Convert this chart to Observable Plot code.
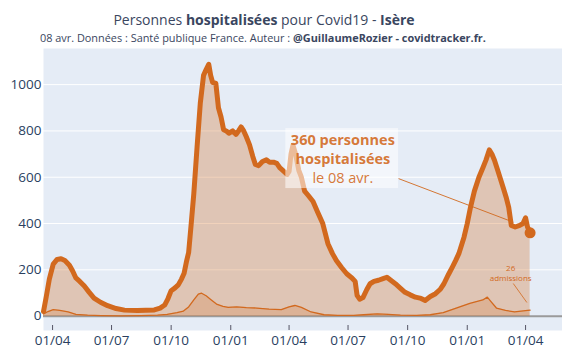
<!DOCTYPE html>
<html><head><meta charset="utf-8">
<script src="https://cdn.jsdelivr.net/npm/d3@7"></script>
<script src="https://cdn.jsdelivr.net/npm/@observablehq/plot@0.6"></script>
<style>
body{margin:0;background:#fff;font-family:"Open Sans",sans-serif;}
#wrap{position:relative;width:562px;height:355px;overflow:hidden;}
#title{position:absolute;top:10px;left:0;width:528px;text-align:center;font-size:14px;color:#3a4660;white-space:nowrap;}
#sub{position:absolute;top:30px;left:40px;font-size:10.9px;color:#3a4660;white-space:nowrap;}
#chart{position:absolute;top:40px;left:0;}
</style></head>
<body><div id="wrap">
<div id="title">Personnes <b>hospitalisées</b> pour Covid19 - <b>Isère</b></div>
<div id="sub">08 avr. Données : Santé publique France. Auteur : <b>@GuillaumeRozier - covidtracker.fr.</b></div>
<div id="chart"></div></div>
<script>
// Hospitalized persons (Isère)
const hospDates = ["2020-03-18","2020-03-22","2020-03-27","2020-04-02","2020-04-08","2020-04-14","2020-04-20","2020-04-27","2020-05-02","2020-05-07","2020-05-13","2020-05-20","2020-05-27","2020-06-04","2020-06-14","2020-06-25","2020-07-08","2020-07-21","2020-08-10","2020-09-05","2020-09-14","2020-09-21","2020-09-26","2020-10-01","2020-10-07","2020-10-12","2020-10-17","2020-10-21","2020-10-25","2020-10-28","2020-11-01","2020-11-05","2020-11-10","2020-11-15","2020-11-20","2020-11-24","2020-11-28","2020-12-01","2020-12-04","2020-12-09","2020-12-13","2020-12-17","2020-12-21","2020-12-25","2020-12-29","2021-01-04","2021-01-09","2021-01-13","2021-01-17","2021-01-21","2021-01-25","2021-01-30","2021-02-04","2021-02-08","2021-02-13","2021-02-19","2021-02-25","2021-03-02","2021-03-08","2021-03-13","2021-03-18","2021-03-24","2021-03-29","2021-04-01","2021-04-04","2021-04-07","2021-04-11","2021-04-16","2021-04-20","2021-04-25","2021-05-01","2021-05-08","2021-05-15","2021-05-23","2021-05-31","2021-06-07","2021-06-13","2021-06-21","2021-06-29","2021-07-07","2021-07-12","2021-07-15","2021-07-19","2021-07-24","2021-07-30","2021-08-04","2021-08-10","2021-08-17","2021-08-24","2021-08-30","2021-09-05","2021-09-12","2021-09-20","2021-09-27","2021-10-05","2021-10-13","2021-10-20","2021-10-28","2021-11-05","2021-11-13","2021-11-20","2021-11-26","2021-12-03","2021-12-09","2021-12-14","2021-12-19","2021-12-27","2022-01-01","2022-01-06","2022-01-12","2022-01-19","2022-01-25","2022-01-30","2022-02-04","2022-02-08","2022-02-12","2022-02-17","2022-02-22","2022-02-26","2022-03-02","2022-03-06","2022-03-10","2022-03-16","2022-03-23","2022-03-28","2022-04-01","2022-04-04","2022-04-08"];
const hospValues = [20,80,160,225,245,248,240,220,195,165,150,130,105,78,60,45,33,26,24,27,35,48,75,110,122,135,160,185,240,275,400,530,730,920,1040,1065,1088,1040,1010,1005,900,860,805,800,790,800,785,800,817,800,775,740,690,655,650,668,675,665,665,660,640,625,612,625,700,738,700,630,600,540,520,495,450,400,313,270,240,210,183,165,150,90,73,80,115,140,150,155,162,168,155,140,120,103,92,82,78,68,85,97,115,140,180,212,240,270,341,400,470,540,600,640,675,718,700,673,630,586,550,514,470,392,385,392,400,425,385,360];

// New admissions (smoothed)
const admDates = ["2020-03-18","2020-03-25","2020-04-02","2020-04-12","2020-04-25","2020-05-07","2020-05-25","2020-06-15","2020-07-15","2020-08-15","2020-09-10","2020-09-25","2020-10-10","2020-10-20","2020-10-28","2020-11-05","2020-11-12","2020-11-17","2020-11-24","2020-12-02","2020-12-10","2020-12-20","2020-12-28","2021-01-10","2021-01-25","2021-02-10","2021-03-01","2021-03-20","2021-04-01","2021-04-10","2021-04-20","2021-05-05","2021-05-25","2021-06-15","2021-07-10","2021-07-25","2021-08-15","2021-09-01","2021-09-20","2021-10-15","2021-11-05","2021-11-25","2021-12-15","2022-01-05","2022-01-25","2022-02-01","2022-02-06","2022-02-15","2022-03-01","2022-03-15","2022-04-01","2022-04-08"];
const admValues = [10,20,28,25,18,8,4,2,1,2,4,8,15,22,40,70,95,99,88,70,52,42,38,40,37,35,30,28,40,46,38,18,6,3,3,6,10,8,4,3,6,15,35,55,70,82,65,35,25,18,24,26];

const xTickDates = ["2020-04-01","2020-07-01","2020-10-01","2021-01-01","2021-04-01","2021-07-01","2021-10-01","2022-01-01","2022-04-01"];
const yTickValues = [0,200,400,600,800,1000];

// Annotations (anchored in data space)
const hospLabelBold = [
  {date:"2021-06-23", value:759, text:"360 personnes"},
  {date:"2021-06-23", value:677, text:"hospitalisées"}
];
const hospLabelNormal = [{date:"2021-06-23", value:595, text:"le 08 avr."}];
const hospLabelBox = [{x1:"2021-03-27", x2:"2021-09-17", y1:551, y2:810}];
const hospLabelLink = [{x1:"2021-09-17", y1:594, x2:"2022-03-13", y2:406}];
const admLabel = [{date:"2022-03-09", value:188, text:"26\nadmissions"}];
const admLabelLink = [{x1:"2022-03-13", y1:141, x2:"2022-04-03", y2:59}];

const parse = d3.utcParse("%Y-%m-%d");
const hosp = hospDates.map((d,i)=>({date:parse(d), value:hospValues[i]}));
const adm = admDates.map((d,i)=>({date:parse(d), value:admValues[i]}));
const last = [hosp[hosp.length-1]];
const xTicks = xTickDates.map(parse);
const orange = "#d2691e";

const chart = Plot.plot({
  width:562, height:315,
  marginLeft:43, marginRight:0, marginTop:8, marginBottom:25,
  style:{fontFamily:"Open Sans", fontSize:"13px", color:"#2a3f5f", background:"transparent"},
  x:{type:"utc", domain:[parse("2020-03-18"), parse("2022-05-28")]},
  y:{domain:[-62,1156]},
  marks:[
    Plot.frame({fill:"#e5ecf6", stroke:null}),
    Plot.gridY(yTickValues.filter(v=>v>0), {stroke:"white", strokeOpacity:1, strokeWidth:1}),
    Plot.ruleY([0], {stroke:"#9a9a9a", strokeWidth:2}),
    Plot.areaY(hosp, {x:"date", y:"value", fill:orange, fillOpacity:0.3}),
    Plot.areaY(adm, {x:"date", y:"value", fill:orange, fillOpacity:0.2}),
    Plot.lineY(adm, {x:"date", y:"value", stroke:orange, strokeWidth:1.3}),
    Plot.lineY(hosp, {x:"date", y:"value", stroke:orange, strokeWidth:5, strokeLinejoin:"round"}),
    Plot.dot(last, {x:"date", y:"value", r:5.5, fill:orange}),
    Plot.rect(hospLabelBox, {x1:d=>parse(d.x1), x2:d=>parse(d.x2), y1:"y1", y2:"y2", fill:"white", fillOpacity:0.55}),
    Plot.link(hospLabelLink, {x1:d=>parse(d.x1), x2:d=>parse(d.x2), y1:"y1", y2:"y2", stroke:orange, strokeWidth:1, strokeOpacity:0.9}),
    Plot.text(hospLabelBold, {x:d=>parse(d.date), y:"value", text:"text", fontWeight:"bold", fill:orange, fontSize:14.5, fillOpacity:0.9}),
    Plot.text(hospLabelNormal, {x:d=>parse(d.date), y:"value", text:"text", fill:orange, fontSize:14.5, fillOpacity:0.9}),
    Plot.text(admLabel, {x:d=>parse(d.date), y:"value", text:"text", fill:orange, fontSize:8, lineHeight:1.3}),
    Plot.link(admLabelLink, {x1:d=>parse(d.x1), x2:d=>parse(d.x2), y1:"y1", y2:"y2", stroke:orange, strokeWidth:1, strokeOpacity:0.8}),
    Plot.tickX(xTicks, {x:d=>d, stroke:"#556", strokeWidth:1, insetTop:277, insetBottom:0}),
    Plot.axisY(yTickValues, {tickSize:0, tickPadding:2, fontSize:13.5, tickFormat:d3.format("d")}),
    Plot.axisX(xTicks, {tickSize:0, tickPadding:5, tickFormat:d3.utcFormat("%d/%m"), fontSize:13.5})
  ]
});
document.getElementById("chart").appendChild(chart);
</script>
</body></html>
